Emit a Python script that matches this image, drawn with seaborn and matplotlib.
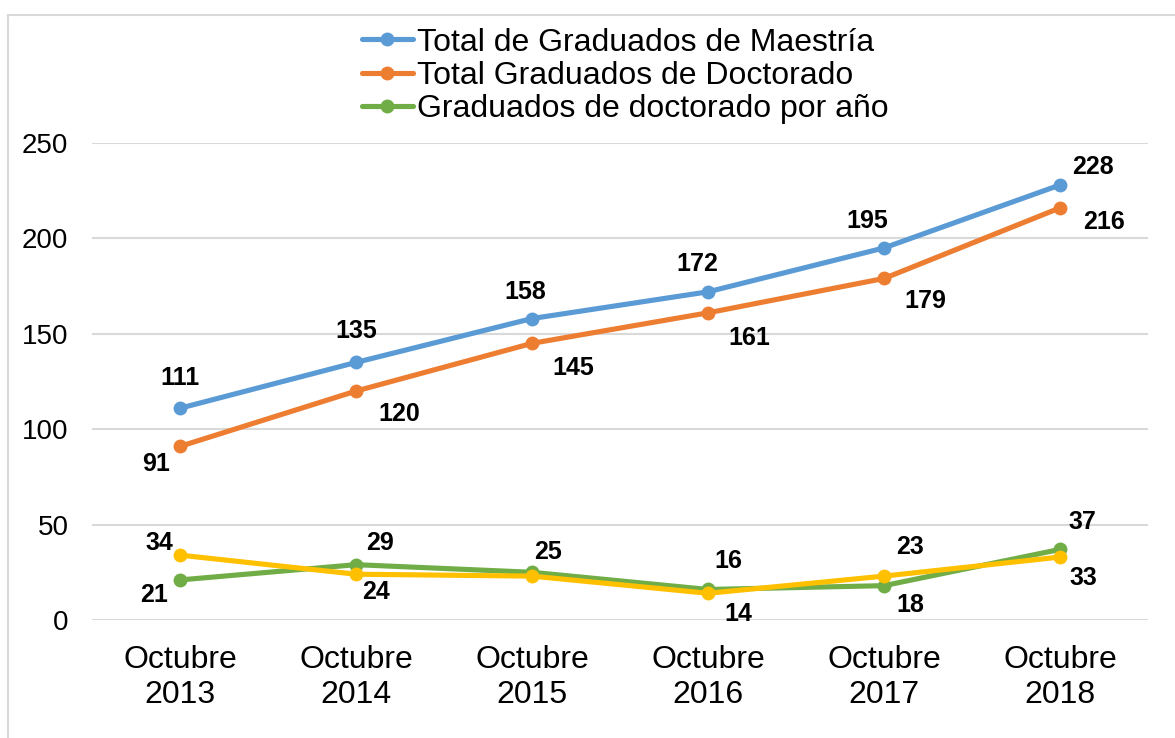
import matplotlib
matplotlib.use('Agg')
import matplotlib.pyplot as plt
import seaborn as sns
import pandas as pd
from matplotlib.patches import Rectangle

# Data
years = ['Octubre\n2013', 'Octubre\n2014', 'Octubre\n2015', 'Octubre\n2016', 'Octubre\n2017', 'Octubre\n2018']
maestria = [111, 135, 158, 172, 195, 228]
doctorado = [91, 120, 145, 161, 179, 216]
doct_anio = [21, 29, 25, 16, 18, 37]
otro = [34, 24, 23, 14, 23, 33]

sns.set_style('white')
plt.rcParams['font.family'] = ['Liberation Sans', 'DejaVu Sans']
plt.rcParams['text.color'] = 'black'
plt.rcParams['xtick.color'] = 'black'
plt.rcParams['ytick.color'] = 'black'

fig = plt.figure(figsize=(11.75, 7.38), dpi=100)
ax = fig.add_axes([92 / 1175, 1 - 620 / 738, (1148 - 92) / 1175, (620 - 143) / 738])

# light frame around the chart area
fig.patches.append(Rectangle((8 / 1175, -0.05), 1.1, 1 - 15 / 738 + 0.05,
                             transform=fig.transFigure, fill=False,
                             edgecolor='#D9D9D9', linewidth=1.5))

x = list(range(len(years)))
series = [
    ('Total de Graduados de Maestría', maestria, '#5B9BD5'),
    ('Total Graduados de Doctorado', doctorado, '#ED7D31'),
    ('Graduados de doctorado por año', doct_anio, '#70AD47'),
    ('_otro', otro, '#FFC000'),
]
for name, vals, col in series:
    sns.lineplot(x=x, y=vals, ax=ax, color=col, linewidth=3.7, marker='o',
                 markersize=10, markeredgewidth=0, label=name)

# label offsets in pixels (dx, dy up)
offsets = {
    '#5B9BD5': [(0, 30), (0, 31), (-7, 27), (-11, 28), (-17, 27), (33, 18)],
    '#ED7D31': [(-24, -18), (43, -23), (41, -25), (41, -25), (41, -23), (44, -14)],
    '#70AD47': [(-26, -15), (24, 22), (16, 20), (20, 28), (26, -19), (22, 27)],
    '#FFC000': [(-21, 12), (20, -18), None, (30, -21), (26, 29), (23, -21)],
}
for name, vals, col in series:
    for i, v in enumerate(vals):
        off = offsets[col][i]
        if off is None:
            continue
        ax.annotate(str(v), (x[i], v), textcoords='offset pixels', xytext=off,
                    ha='center', va='center', fontsize=18, fontweight='bold',
                    color='black')

ax.set_xlim(-0.5, 5.5)
ax.set_ylim(0, 250)
ax.set_yticks([0, 50, 100, 150, 200, 250])
ax.set_xticks(x)
ax.set_xticklabels(years, fontsize=23)
ax.tick_params(axis='y', labelsize=20, length=0, pad=17)
ax.tick_params(axis='x', length=0, pad=18)
ax.grid(axis='y', color='#D9D9D9', linewidth=1.5)
ax.set_axisbelow(True)
for s in ax.spines.values():
    s.set_visible(False)
ax.set_xlabel('')
ax.set_ylabel('')

leg = ax.legend(loc='lower center', bbox_to_anchor=(0.505, 1.013), frameon=False,
                fontsize=23, handlelength=1.6, handletextpad=0.15, labelspacing=0.1,
                borderaxespad=0)
for h in leg.get_lines():
    h.set_linewidth(3.7)
    h.set_markersize(10)

fig.savefig('out.png', dpi=100)
